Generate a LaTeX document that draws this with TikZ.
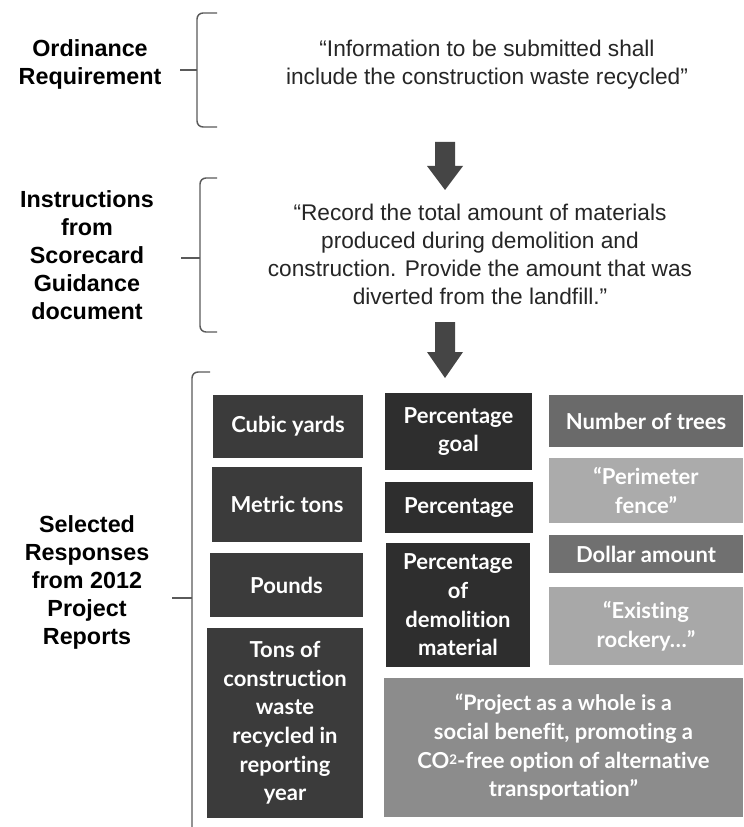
\documentclass[tikz,border=0pt]{standalone}
\usepackage{fontspec}
\setmainfont{Liberation Sans}
\newfontfamily\boxfont{Lato}[Ligatures=NoCommon]
\definecolor{dkA}{HTML}{3B3B3B}
\definecolor{dkB}{HTML}{2E2E2E}
\definecolor{mdA}{HTML}{6A6A6A}
\definecolor{mdB}{HTML}{707070}
\definecolor{ltA}{HTML}{ABABAB}
\definecolor{ltB}{HTML}{A8A8A8}
\definecolor{prj}{HTML}{8C8C8C}
\definecolor{arr}{HTML}{454545}
\definecolor{brc}{HTML}{5A5A5A}
\tikzset{
  lbl/.style={align=center, font=\bfseries\fontsize{17.5}{21}\selectfont, text=black},
  quote/.style={align=center, font=\fontsize{17}{21}\selectfont, text=black!85},
  box/.style={draw=none, inner sep=0pt, align=center, text=white,
    font=\boxfont\bfseries\fontsize{16.5}{21.5}\selectfont},
  curly/.style={draw=brc, line width=1.1pt, rounded corners=4.5pt},
  blockarrow/.style={fill=arr, draw=none}
}
\newcommand\bx[7]{\node[box, fill=#6, minimum width={(#4-#2)*0.75pt}, minimum height={(#5-#3)*0.75pt}] (#1) at ({(#2+#4)/2},{(#3+#5)/2}) {#7};}
% \brc{x vertical}{top}{bottom}{x hook end}{x tip}{y tip}
\newcommand\brc[6]{\draw[curly] (#4,#2) -- (#1,#2) -- (#1,#3) -- (#4,#3);
  \draw[draw=brc, line width=1.1pt] (#5,#6) -- (#1,#6);}
\begin{document}
\begin{tikzpicture}[x=0.75pt,y=-0.75pt]
\useasboundingbox[fill=white] (0,0) rectangle (743,827);
% labels
\node[lbl] (ord) at (90,64) {Ordinance\\Requirement};
\node[lbl] (ins) at (87,255) {Instructions\\from\\Scorecard\\Guidance\\document};
\node[lbl] (sel) at (87,582) {Selected\\Responses\\from 2012\\Project\\Reports};
% quotes
\node[quote] (q1) at (487,65) {“Information to be submitted shall\\include the construction waste recycled”};
\node[quote] (q2) at (480,254) {“Record the total amount of materials\\produced during demolition and\\construction. Provide the amount that was\\diverted from the landfill.”};
% braces
\brc{197}{13}{127}{217}{180}{70}
\brc{200}{178}{332}{217}{181}{258}
\brc{192}{372}{840}{210}{172}{598}
% block arrows
\coordinate (a1) at (445,142);
\coordinate (a2) at (445,322);
\fill[blockarrow] (a1) ++(-10,0) -- ++(20,0) -- ++(0,24) -- ++(8,0) -- ++(-18,24) -- ++(-18,-24) -- ++(8,0) -- cycle;
\fill[blockarrow] (a2) ++(-10,0) -- ++(20,0) -- ++(0,30) -- ++(8,0) -- ++(-18,26) -- ++(-18,-26) -- ++(8,0) -- cycle;
% boxes
\bx{cub}{213}{395}{363}{458}{dkA}{Cubic yards}
\bx{met}{212}{467}{362}{542}{dkA}{Metric tons}
\bx{pou}{210}{553}{363}{617}{dkA}{Pounds}
\bx{ton}{207}{628}{363}{818}{dkA}{Tons of\\construction\\waste\\recycled in\\reporting\\year}
\bx{pgo}{385}{393}{532}{470}{dkB}{Percentage\\goal}
\bx{pct}{385}{482}{533}{533}{dkB}{Percentage}
\bx{pdm}{386}{543}{530}{667}{dkB}{Percentage\\of\\demolition\\material}
\bx{tre}{549}{395}{743}{447}{mdA}{Number of trees}
\bx{per}{549}{458}{743}{523}{ltA}{“Perimeter\\fence”}
\bx{dol}{549}{535}{743}{573}{mdB}{Dollar amount}
\bx{roc}{549}{587}{743}{665}{ltB}{“Existing\\rockery…”}
\bx{pro}{384}{678}{743}{817}{prj}{\fontsize{16}{20.5}\selectfont “Project as a whole is a\\social benefit, promoting a\\CO{\fontsize{10}{10}\selectfont\raisebox{0.5ex}{2}}-free option of alternative\\transportation”}
\end{tikzpicture}
\end{document}
